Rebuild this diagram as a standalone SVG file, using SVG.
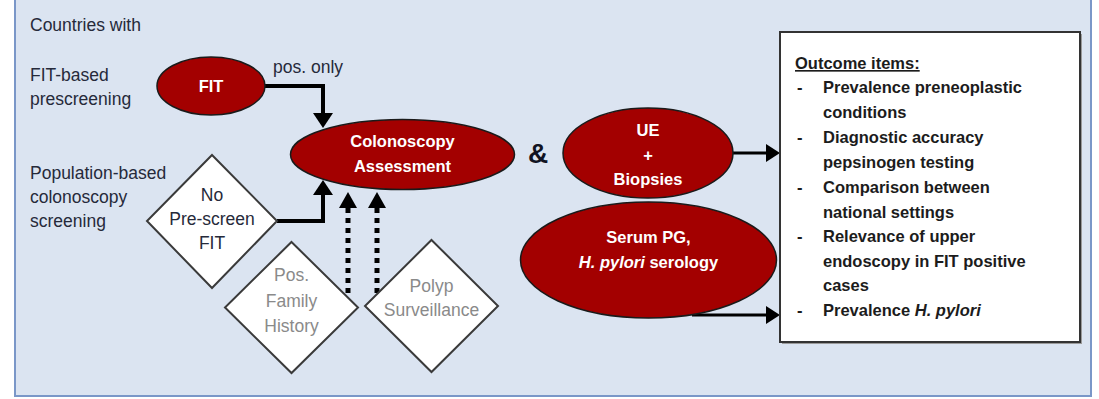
<svg xmlns="http://www.w3.org/2000/svg" width="1099" height="399" viewBox="0 0 1099 399">
  <style>
    .lbl { font-family: "Liberation Sans", Arial, sans-serif; font-size: 17.5px; fill: #262a3a; }
    .ell { fill: #a30000; stroke: #1a1a1a; stroke-width: 1.5; }
    .ellt { font-family: "Liberation Sans", Arial, sans-serif; font-size: 16.5px; font-weight: bold; fill: #ffffff; text-anchor: middle; }
    .dia { fill: #ffffff; stroke: #3a3a3a; stroke-width: 2; }
    .diat { font-family: "Liberation Sans", Arial, sans-serif; font-size: 17.5px; fill: #262a3a; text-anchor: middle; }
    .diag { font-family: "Liberation Sans", Arial, sans-serif; font-size: 17.5px; fill: #8a8a8a; text-anchor: middle; }
    .out { font-family: "Liberation Sans", Arial, sans-serif; font-size: 16.5px; font-weight: bold; fill: #1c1c1c; }
    .solid { fill: none; stroke: #000; stroke-width: 4; marker-end: url(#bigArrow); }
    .dot { fill: none; stroke: #000; stroke-width: 5; stroke-dasharray: 5 5; marker-end: url(#dotArrow); }
    .thin { fill: none; stroke: #000; stroke-width: 3; marker-end: url(#smallArrow); }
  </style>
  <defs>
    <marker id="bigArrow" markerUnits="userSpaceOnUse" markerWidth="15" markerHeight="20" refX="5" refY="10" orient="auto">
      <path d="M0,0 L15,10 L0,20 z" fill="#000"/>
    </marker>
    <marker id="dotArrow" markerUnits="userSpaceOnUse" markerWidth="16" markerHeight="18" refX="4" refY="9" orient="auto">
      <path d="M0,0 L16,9 L0,18 z" fill="#000"/>
    </marker>
    <marker id="smallArrow" markerUnits="userSpaceOnUse" markerWidth="14" markerHeight="18" refX="2" refY="9" orient="auto">
      <path d="M0,0 L14,9 L0,18 z" fill="#000"/>
    </marker>
  </defs>

  <rect id="background" x="15" y="-5" width="1076" height="401" fill="#dbe4f1" stroke="#7a97c8" stroke-width="2"/>

  <g id="labels">
    <text class="lbl" x="30" y="31">Countries with</text>
    <text class="lbl" x="30" y="81">FIT-based</text>
    <text class="lbl" x="30" y="105">prescreening</text>
    <text class="lbl" x="30" y="179">Population-based</text>
    <text class="lbl" x="30" y="203">colonoscopy</text>
    <text class="lbl" x="30" y="227">screening</text>
    <text class="lbl" x="273" y="73">pos. only</text>
    <text x="538" y="163" font-family="Liberation Sans, Arial, sans-serif" font-size="28" font-weight="bold" fill="#111322" text-anchor="middle">&amp;</text>
  </g>

  <g id="connectors">
    <path class="solid" d="M265,86 H323 V118"/>
    <path class="solid" d="M277,221 H323 V190"/>
    <path class="dot" d="M348,293 V204"/>
    <path class="dot" d="M377,293 V204"/>
    <path class="thin" d="M733,153 H768"/>
    <path class="thin" d="M692,315 H768"/>
  </g>

  <g id="node-fit">
    <ellipse class="ell" cx="211" cy="86" rx="54" ry="29"/>
    <text class="ellt" x="211" y="92">FIT</text>
  </g>

  <g id="node-colonoscopy">
    <ellipse class="ell" cx="402.5" cy="154.5" rx="112" ry="35"/>
    <text class="ellt" x="402.5" y="147">Colonoscopy</text>
    <text class="ellt" x="402.5" y="172">Assessment</text>
  </g>

  <g id="node-no-prescreen">
    <polygon class="dia" points="212,155 277,221 212,288 147,221"/>
    <text class="diat" x="212" y="201">No</text>
    <text class="diat" x="212" y="225">Pre-screen</text>
    <text class="diat" x="212" y="249">FIT</text>
  </g>

  <g id="node-family-history">
    <polygon class="dia" points="291.5,242 358,307.5 291.5,373 225,307.5"/>
    <text class="diag" x="291.5" y="281">Pos.</text>
    <text class="diag" x="291.5" y="307">Family</text>
    <text class="diag" x="291.5" y="332">History</text>
  </g>

  <g id="node-polyp">
    <polygon class="dia" points="431.5,240 498,306 431.5,372 365,306"/>
    <text class="diag" x="431.5" y="292">Polyp</text>
    <text class="diag" x="431.5" y="316">Surveillance</text>
  </g>

  <g id="node-ue">
    <ellipse class="ell" cx="648" cy="153" rx="85" ry="45"/>
    <text class="ellt" x="648" y="136">UE</text>
    <text class="ellt" x="648" y="161">+</text>
    <text class="ellt" x="648" y="185">Biopsies</text>
  </g>

  <g id="node-serum">
    <ellipse class="ell" cx="648.5" cy="260" rx="128" ry="58"/>
    <text class="ellt" x="648.5" y="243">Serum PG,</text>
    <text class="ellt" x="648.5" y="268"><tspan font-style="italic">H. pylori</tspan> serology</text>
  </g>

  <g id="node-outcome">
    <rect x="782" y="34" width="300" height="310" fill="#9a9a9a"/>
    <rect x="780" y="32" width="300" height="310" fill="#ffffff" stroke="#333333" stroke-width="2"/>
    <text class="out" x="795" y="69" text-decoration="underline">Outcome items:</text>
    <text class="out" x="797" y="93">-</text>
    <text class="out" x="823" y="93">Prevalence preneoplastic</text>
    <text class="out" x="823" y="118">conditions</text>
    <text class="out" x="797" y="143">-</text>
    <text class="out" x="823" y="143">Diagnostic accuracy</text>
    <text class="out" x="823" y="168">pepsinogen testing</text>
    <text class="out" x="797" y="193">-</text>
    <text class="out" x="823" y="193">Comparison between</text>
    <text class="out" x="823" y="218">national settings</text>
    <text class="out" x="797" y="242">-</text>
    <text class="out" x="823" y="242">Relevance of upper</text>
    <text class="out" x="823" y="267">endoscopy in FIT positive</text>
    <text class="out" x="823" y="291">cases</text>
    <text class="out" x="797" y="316">-</text>
    <text class="out" x="823" y="316">Prevalence <tspan font-style="italic">H. pylori</tspan></text>
  </g>
</svg>
